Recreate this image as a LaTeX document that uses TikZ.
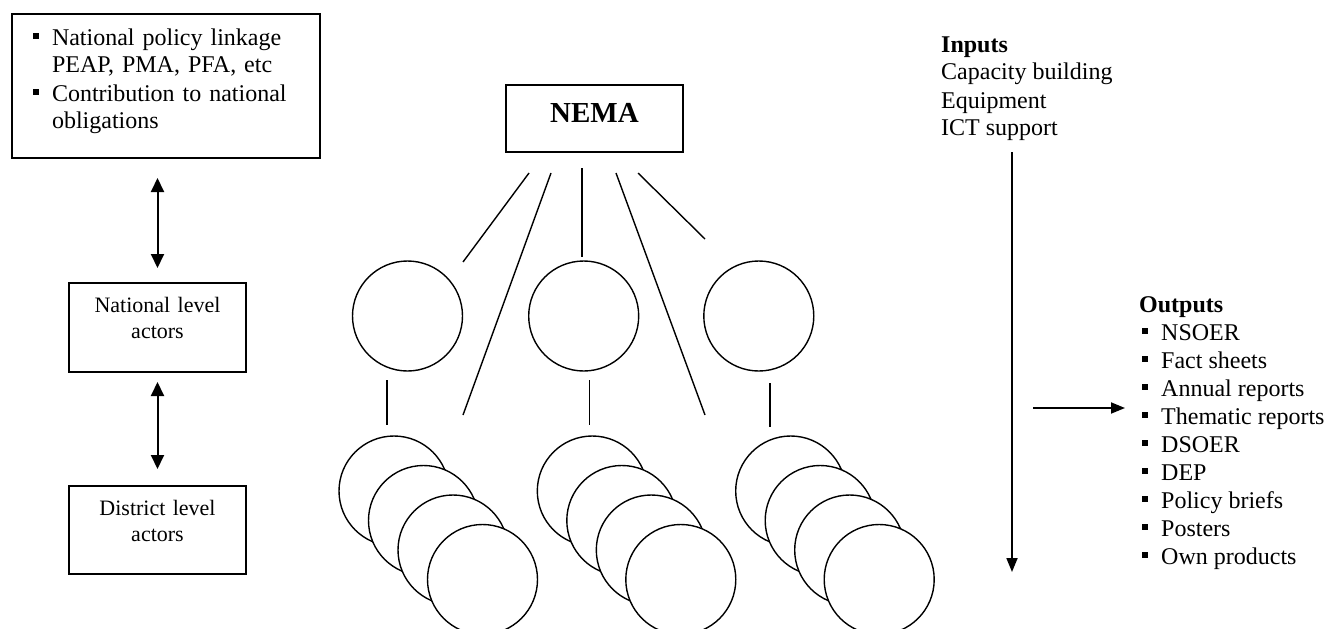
\documentclass[tikz,border=0pt]{standalone}
\usepackage{fontspec}
\setmainfont{Liberation Serif}
\usetikzlibrary{arrows.meta}
\newcommand{\sqb}{\rule[6pt]{6pt}{6pt}}

\begin{document}
\begin{tikzpicture}[x=1pt,y=-1pt]
\useasboundingbox (0,0) rectangle (1336,629);

\tikzset{box/.style={draw,line width=1.5pt,inner xsep=0pt,inner ysep=0pt,outer sep=0pt,anchor=base}}
\tikzset{bub/.style={draw,circle,line width=1.4pt,fill=white,minimum size=110pt,inner sep=0pt}}
\tikzset{link/.style={line width=1.4pt}}
\tikzset{updown/.style={{Triangle[length=14pt,width=13pt]}-{Triangle[length=14pt,width=13pt]},line width=2pt}}
\tikzset{flow/.style={-{Triangle[length=14pt,width=11pt]},line width=1.8pt}}
\tikzset{txt/.style={font=\fontsize{24}{28}\selectfont,inner sep=0pt,anchor=base west}}

\node (pol) [box, anchor=base west, text width=266pt, inner xsep=21pt, text height=31pt, text depth=113pt, font=\fontsize{24}{28}\selectfont] at (12,45)
  {\begin{tabular}[t]{@{}l@{\hspace{13pt}}l@{}}
   \sqb & National policy linkage\\
        & PEAP, PMA, PFA, etc\\
   \sqb & Contribution to national\\
        & obligations
   \end{tabular}};
\node (nat) [box, text width=167pt, align=center, inner xsep=5pt, text height=29pt, text depth=60pt, font=\fontsize{22}{26}\selectfont] at (157.5,312) {National level\\actors};
\node (dist) [box, text width=167pt, align=center, inner xsep=5pt, text height=29pt, text depth=59pt, font=\fontsize{22}{26}\selectfont] at (157.5,515) {District level\\actors};

\node (nema) [box, minimum width=177pt, text height=37pt, text depth=30pt, font=\fontsize{29}{34}\selectfont\bfseries] at (594.5,122) {NEMA};

\node (r1) [bub] at (407.5,316) {};
\node (r2) [bub] at (583.7,316) {};
\node (r3) [bub] at (758.8,316) {};

\node (a1) [bub] at (394.0,491.0) {};
\node (a2) [bub] at (423.5,520.5) {};
\node (a3) [bub] at (453.0,550.0) {};
\node (a4) [bub] at (482.5,579.5) {};

\node (b1) [bub] at (592.3,491.0) {};
\node (b2) [bub] at (621.8,520.5) {};
\node (b3) [bub] at (651.3,550.0) {};
\node (b4) [bub] at (680.8,579.5) {};

\node (c1) [bub] at (790.7,491.0) {};
\node (c2) [bub] at (820.2,520.5) {};
\node (c3) [bub] at (849.7,550.0) {};
\node (c4) [bub] at (879.2,579.5) {};

\node (inp) [txt] at (941,52)
  {\begin{tabular}[t]{@{}l@{}}
   \textbf{Inputs}\\
   Capacity building\\
   Equipment\\
   ICT support
   \end{tabular}};
\node (outp) [txt] at (1142,312)
  {\begin{tabular}[t]{@{}l@{\hspace{13pt}}l@{}}
   \multicolumn{2}{@{}l@{}}{\hspace{-3pt}\textbf{Outputs}}\\
   \sqb & NSOER\\
   \sqb & Fact sheets\\
   \sqb & Annual reports\\
   \sqb & Thematic reports\\
   \sqb & DSOER\\
   \sqb & DEP\\
   \sqb & Policy briefs\\
   \sqb & Posters\\
   \sqb & Own products
   \end{tabular}};

% ends of the loose links
\coordinate (s1) at (529,173);
\coordinate (e1) at (463,262);
\coordinate (s2) at (551,173);
\coordinate (e2) at (463,415);
\coordinate (s3) at (582,168);
\coordinate (e3) at (582,257);
\coordinate (s4) at (616,173);
\coordinate (e4) at (705,415);
\coordinate (s5) at (638,173);
\coordinate (e5) at (705,239);

\coordinate (v1a) at (387,380);
\coordinate (v1b) at (387,425);
\coordinate (v2a) at (589.5,380);
\coordinate (v2b) at (589.5,425);
\coordinate (v3a) at (770,383);
\coordinate (v3b) at (770,427);

\path (nat.north |- pol.south) ++(0,20) coordinate (u1);
\path (nat.north) ++(0,-15) coordinate (u2);
\path (nat.south) ++(0,10) coordinate (d1);
\path (dist.north) ++(0,-17) coordinate (d2);

\coordinate (inA) at (1012,152);
\coordinate (inB) at (1012,572);
\coordinate (outA) at (1033,408);
\coordinate (outB) at (1125,408);

\path (u1) edge [updown] (u2);
\path (d1) edge [updown] (d2);

\path (s1) edge [link] (e1);
\path (s2) edge [link] (e2);
\path (s3) edge [link] (e3);
\path (s4) edge [link] (e4);
\path (s5) edge [link] (e5);

\path (v1a) edge [link] (v1b);
\path (v2a) edge [link] (v2b);
\path (v3a) edge [link] (v3b);

\path (inA) edge [flow] (inB);
\path (outA) edge [flow] (outB);
\end{tikzpicture}
\end{document}
